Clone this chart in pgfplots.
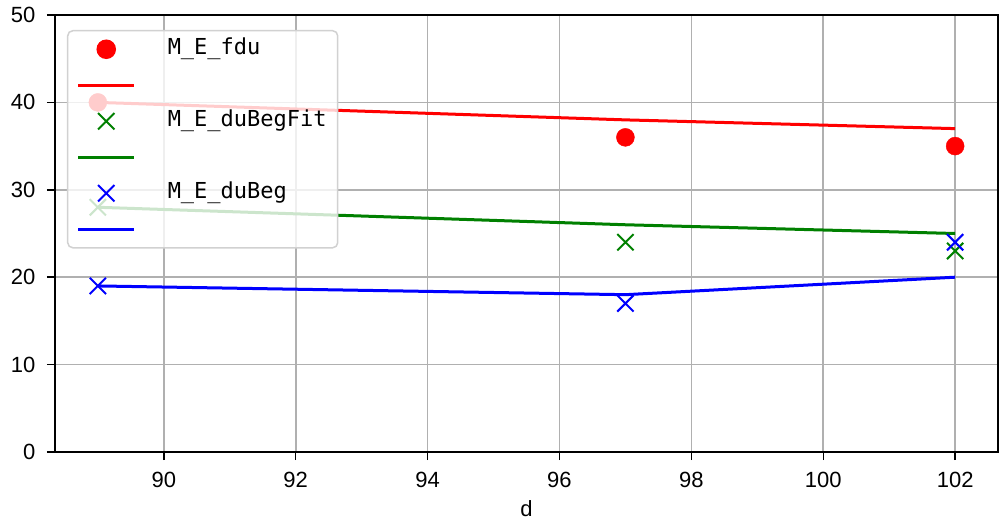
\documentclass[border=0pt]{standalone}
\usepackage{pgfplots}
\pgfplotsset{compat=1.18}
\usepackage{fontspec}
\setmainfont{Liberation Sans}
\newfontfamily\legfont{DejaVu Sans Mono}
\usetikzlibrary{calc}
\pgfplotsset{
  markleg/.style={legend image code/.code={\draw[mark repeat=2,mark phase=2,opacity=1,##1] plot coordinates {(0pt,0pt)(28pt,0pt)(56pt,0pt)};}},
  lineleg/.style={legend image code/.code={\draw[opacity=1,##1] (0pt,0pt) -- (56pt,0pt);}},
}
\begin{document}
\begin{tikzpicture}[font=\fontsize{22}{26}\selectfont]
\begin{axis}[name=ax, scale only axis, width=943pt, height=437pt,
  xmin=88.35, xmax=102.65, ymin=0, ymax=50,
  xtick={90,92,...,102}, ytick={0,10,...,50},
  xtick pos=bottom, ytick pos=left,
  grid=major, grid style={color=black!31, line width=1.7pt},
  axis line style={line width=1.5pt},
  tick align=outside, major tick length=8pt, tick style={black, line width=1.5pt},
  xlabel={d},
  xlabel style={yshift=-6pt},
  /pgf/number format/assume math mode=true,
  ticklabel style={font=\fontsize{22}{26}\selectfont},
  xticklabel style={yshift=-9pt},
  yticklabel style={xshift=-8pt},
  legend cell align=left,
  legend style={at={(0,1)}, anchor=north west, xshift=12pt, yshift=-15pt,
    draw=black!18, rounded corners=5pt, fill=white, fill opacity=0.8, text opacity=1,
    line width=1.5pt, font=\legfont\fontsize{22}{26}\selectfont,
    inner xsep=9pt, inner ysep=6pt,
    column sep=30pt, row sep=11pt,
    nodes={text height=16pt, text depth=5pt, inner ysep=2pt, inner xsep=2pt}},
]
\addplot[only marks, mark=*, mark size=9pt, color=red, draw=none, fill=red, markleg] coordinates {(89,40)(97,36)(102,35)};
\addlegendentry{M\_E\_fdu}
\addplot[red, line width=3pt, no marks, lineleg] coordinates {(89,40)(97,38)(102,37)};
\addlegendentry{}
\addplot[only marks, mark=x, mark size=11.5pt, color=black!50!green, mark options={line width=2pt}, markleg] coordinates {(89,28)(97,24)(102,23)};
\addlegendentry{M\_E\_duBegFit}
\addplot[black!50!green, line width=3pt, no marks, lineleg] coordinates {(89,28)(97,26)(102,25)};
\addlegendentry{}
\addplot[only marks, mark=x, mark size=11.5pt, color=blue, mark options={line width=2pt}, markleg] coordinates {(89,19)(97,17)(102,24)};
\addlegendentry{M\_E\_duBeg}
\addplot[blue, line width=3pt, no marks, lineleg] coordinates {(89,19)(97,18)(102,20)};
\addlegendentry{}
\end{axis}
\pgfresetboundingbox
\path[use as bounding box] ($(ax.south west)+(-55pt,-70pt)$) rectangle ++(1000pt,522pt);
\end{tikzpicture}
\end{document}
